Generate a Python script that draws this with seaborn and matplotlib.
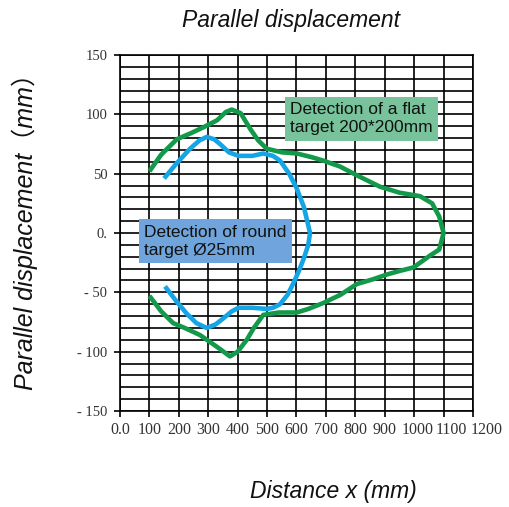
import matplotlib
matplotlib.use("Agg")
import matplotlib.pyplot as plt
import matplotlib.transforms as mtransforms
import seaborn as sns
import pandas as pd
import numpy as np

# ---- data ----
green_x = [100, 140, 193, 240, 283, 330, 360, 380, 410, 442, 470, 499, 550, 601, 650, 691, 748, 810, 884, 950, 1020, 1061, 1085, 1100,
           1085, 1054, 998, 950, 907, 860, 805, 750, 691, 640, 601, 540, 487, 455, 431, 400, 374, 330, 272, 220, 181, 140, 100]
green_y = [52, 66, 79, 84, 89, 95, 102, 104, 101, 88, 78, 71, 68, 67, 64, 61, 56, 48, 39, 34, 31, 25, 14, 0,
           -14, -19, -29, -32, -35, -39, -43, -52, -59, -64, -67, -67, -69, -80, -90, -100, -104, -96, -86, -80, -76, -66, -53]

blue_x = [150, 190, 238, 270, 295, 320, 340, 370, 403, 450, 487, 520, 544, 575, 600, 625, 646,
          640, 624, 608, 590, 570, 544, 520, 499, 450, 403, 380, 351, 325, 295, 260, 227, 190, 153]
blue_y = [46, 58, 71, 78, 81, 79, 75, 68, 65, 65, 67, 65, 61, 50, 38, 22, 0,
          -10, -22, -32, -42, -52, -60, -63, -64, -63, -63, -66, -72, -77, -80, -76, -68, -57, -45]

x_ticks = [0, 100, 200, 300, 400, 500, 600, 700, 800, 900, 1000, 1100, 1200]
x_tick_labels = ["0.0", "100", "200", "300", "400", "500", "600", "700", "800", "900", "1000", "1100", "1200"]
y_ticks = [-150, -100, -50, 0, 50, 100, 150]
y_tick_labels = ["- 150", "- 100", "- 50", "0.", "50", "100", "150"]

title = "Parallel displacement"
x_label = "Distance x (mm)"
y_label = "Parallel displacement\uff08mm\uff09"
green_label = "Detection of a flat\ntarget 200*200mm"
blue_label = "Detection of round\ntarget \u00d825mm"

GREEN = "#12994a"
BLUE = "#15a5e6"

sns.set_theme(style="white")
plt.rcParams["font.family"] = ["Liberation Sans", "Noto Sans CJK SC", "DejaVu Sans"]

W, H = 510, 507
fig = plt.figure(figsize=(W / 100, H / 100), dpi=100)
ax = fig.add_axes([120 / W, 1 - 411 / H, (473 - 120) / W, (411 - 55) / H])

ax.set_xlim(0, 1200)
ax.set_ylim(-150, 150)

# grid
for v in range(0, 1201, 100):
    ax.axvline(v, color="black", lw=1.2, zorder=1)
for h in range(-150, 151, 10):
    ax.axhline(h, color="black", lw=1.2, zorder=1)

gdf = pd.DataFrame({"x": green_x, "y": green_y})
bdf = pd.DataFrame({"x": blue_x, "y": blue_y})
sns.lineplot(data=gdf, x="x", y="y", sort=False, estimator=None, color=GREEN, lw=3.3, ax=ax, zorder=3,
             solid_joinstyle="round", solid_capstyle="butt")
sns.lineplot(data=bdf, x="x", y="y", sort=False, estimator=None, color=BLUE, lw=3.3, ax=ax, zorder=3,
             solid_joinstyle="round", solid_capstyle="butt")

ax.set_xticks(x_ticks)
ax.set_xticklabels(x_tick_labels, family="Liberation Serif", fontsize=11.5, color="#333333")
ax.set_yticks(y_ticks)
ax.set_yticklabels(y_tick_labels, family="Liberation Serif", fontsize=10.5, color="#333333")
ax.tick_params(axis="both", direction="out", length=4, width=1.2, color="black", pad=4, left=True, bottom=True)
ax.tick_params(axis="y", pad=5)
# nudge the crowded right-most x labels as in the reference
x_shift_px = {10: 3, 11: 8, 12: 14}
for i, lab in enumerate(ax.get_xticklabels()):
    if i in x_shift_px:
        lab.set_transform(lab.get_transform() + mtransforms.ScaledTranslation(x_shift_px[i] / 100, 0, fig.dpi_scale_trans))
ax.set_xlabel("")
ax.set_ylabel("")
for s in ax.spines.values():
    s.set_color("black")
    s.set_linewidth(1.2)

ax.text(578, 110, green_label, fontsize=12.5, color="#111111", va="top", ha="left", zorder=5, linespacing=1.25,
        bbox=dict(boxstyle="square,pad=0.3", fc="#78c39b", ec="none"))
ax.text(83, 7, blue_label, fontsize=12.5, color="#111111", va="top", ha="left", zorder=5, linespacing=1.25,
        bbox=dict(boxstyle="square,pad=0.3", fc="#6fa5dc", ec="none"))

fig.text(291 / W, 1 - 27 / H, title, ha="center", va="baseline", fontsize=16.5, style="italic", color="#111111")
fig.text(333 / W, 1 - 498 / H, x_label, ha="center", va="baseline", fontsize=16.5, style="italic", color="#111111")
fig.text(33 / W, 1 - 226 / H, y_label, ha="center", va="baseline", fontsize=18, style="italic",
         rotation=90, rotation_mode="anchor", color="#111111")

fig.savefig("out.png", dpi=100)
